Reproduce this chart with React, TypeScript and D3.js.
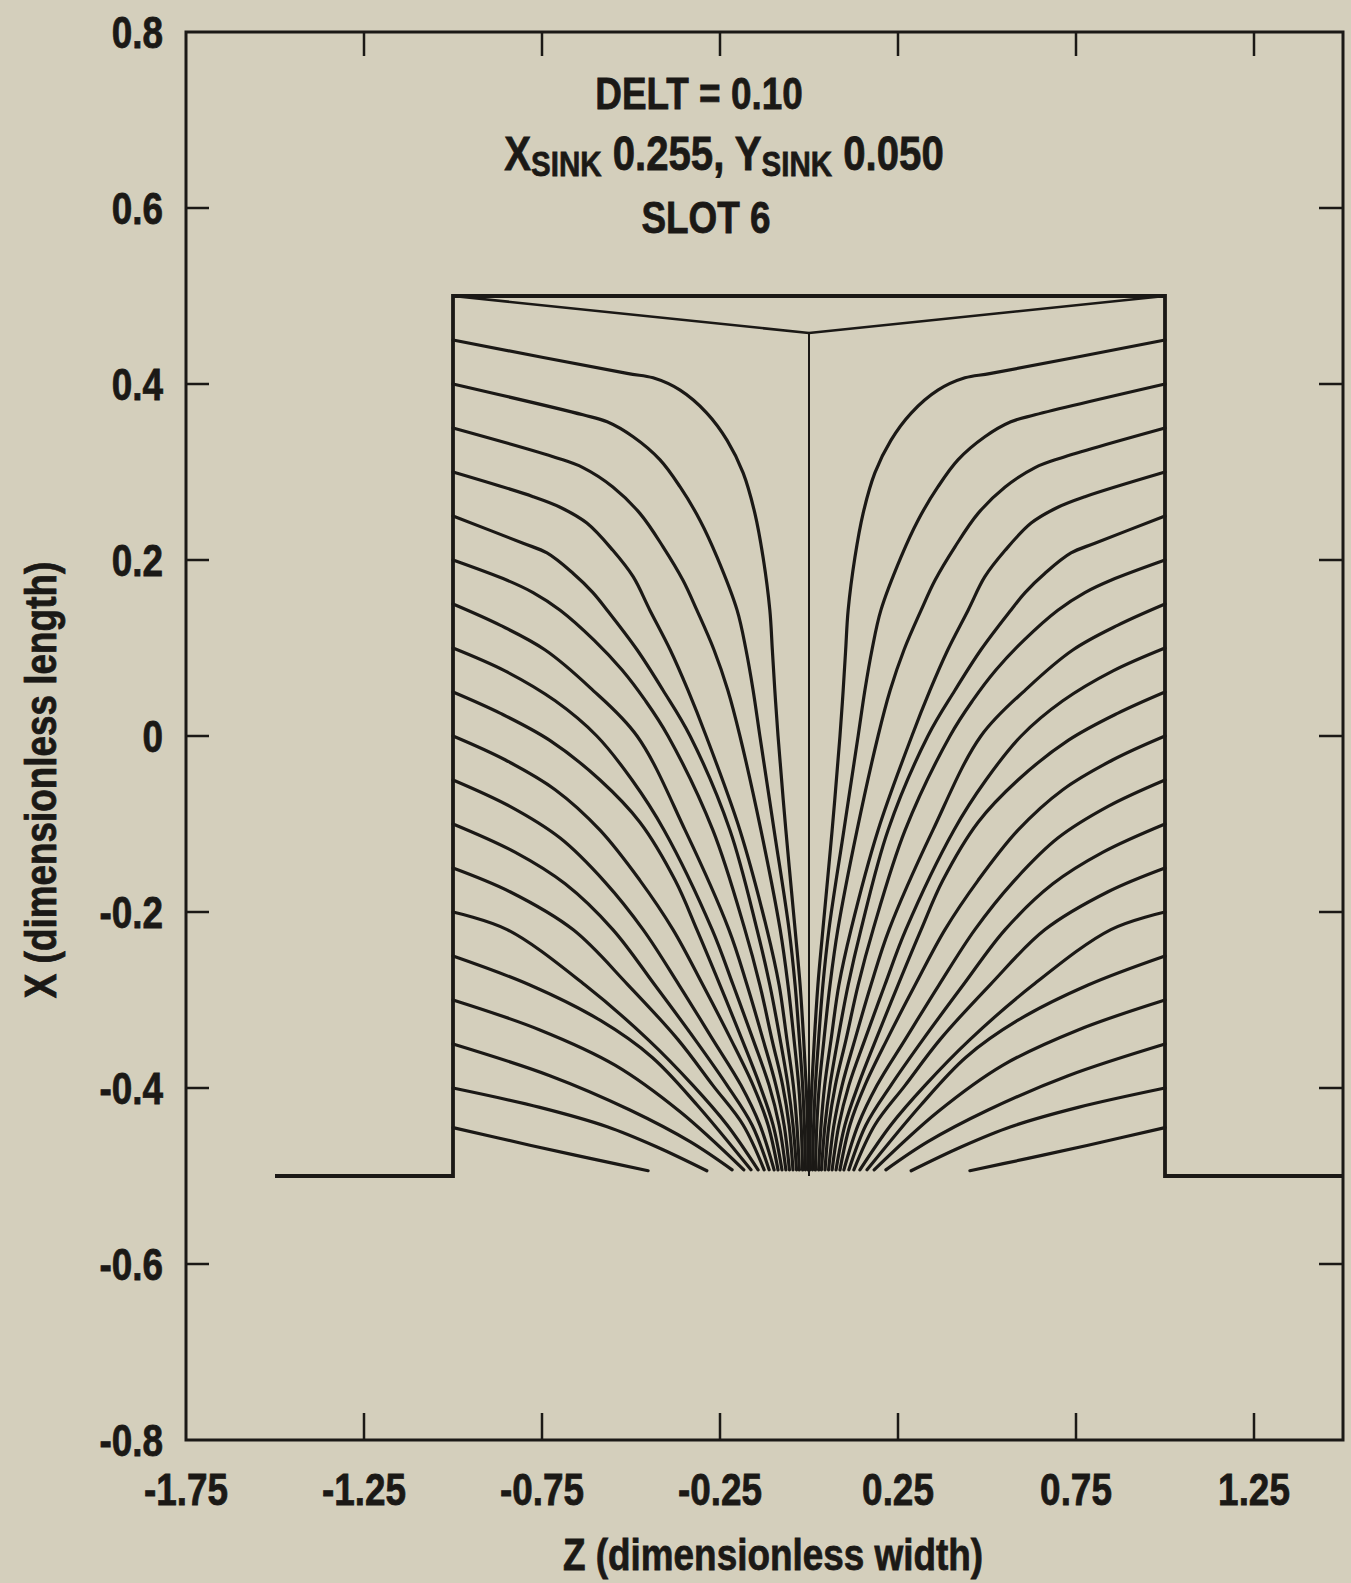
import * as d3 from 'd3';

const W = 1351;
const H = 1583;
const left = 186;
const right = 1343;
const top = 32;
const bottom = 1440;

const xTicks = [-1.75, -1.25, -0.75, -0.25, 0.25, 0.75, 1.25];
const xTickLabels = ['-1.75', '-1.25', '-0.75', '-0.25', '0.25', '0.75', '1.25'];
const yTicks = [0.8, 0.6, 0.4, 0.2, 0, -0.2, -0.4, -0.6, -0.8];
const yTickLabels = ['0.8', '0.6', '0.4', '0.2', '0', '-0.2', '-0.4', '-0.6', '-0.8'];

// slot walls and the floor on both sides
const slotOutline: [number, number][] = [
  [-1.5, -0.5], [-1, -0.5], [-1, 0.5], [1, 0.5], [1, -0.5], [1.5, -0.5],
];
const topLineLeft: [number, number][] = [[-1, 0.5], [0, 0.458]];
const centerLine: [number, number][] = [[0, 0.458], [0, -0.5]];

// streamlines of the left half as (Z, X); the right half is its mirror
const streamlines: [number, number][][] = [
  [[-1, 0.45], [-0.511, 0.412], [-0.438, 0.407], [-0.362, 0.393], [-0.287, 0.367], [-0.23, 0.336], [-0.185, 0.299], [-0.152, 0.253], [-0.129, 0.203], [-0.11, 0.143], [-0.103, 0.098], [-0.096, 0.052], [-0.087, 0], [-0.065, -0.107], [-0.039, -0.22], [-0.025, -0.283], [-0.015, -0.345], [-0.008, -0.397], [-0.004, -0.442], [-0.003, -0.493]],
  [[-1, 0.4], [-0.635, 0.365], [-0.567, 0.357], [-0.494, 0.34], [-0.419, 0.314], [-0.362, 0.283], [-0.306, 0.245], [-0.258, 0.203], [-0.202, 0.143], [-0.177, 0.098], [-0.157, 0.052], [-0.138, 0], [-0.098, -0.107], [-0.056, -0.22], [-0.039, -0.283], [-0.027, -0.345], [-0.018, -0.397], [-0.013, -0.442], [-0.01, -0.493]],
  [[-1, 0.35], [-0.708, 0.316], [-0.635, 0.305], [-0.551, 0.283], [-0.475, 0.253], [-0.41, 0.215], [-0.354, 0.177], [-0.315, 0.143], [-0.267, 0.098], [-0.228, 0.052], [-0.194, 0], [-0.135, -0.107], [-0.081, -0.22], [-0.059, -0.283], [-0.042, -0.345], [-0.029, -0.397], [-0.022, -0.442], [-0.018, -0.493]],
  [[-1, 0.3], [-0.775, 0.272], [-0.699, 0.26], [-0.624, 0.242], [-0.551, 0.211], [-0.494, 0.181], [-0.447, 0.143], [-0.39, 0.098], [-0.34, 0.052], [-0.289, 0], [-0.194, -0.107], [-0.118, -0.22], [-0.084, -0.283], [-0.062, -0.345], [-0.044, -0.397], [-0.034, -0.442], [-0.027, -0.493]],
  [[-1, 0.25], [-0.803, 0.219], [-0.736, 0.208], [-0.663, 0.185], [-0.607, 0.163], [-0.567, 0.143], [-0.483, 0.098], [-0.41, 0.052], [-0.334, 0], [-0.222, -0.107], [-0.146, -0.22], [-0.11, -0.283], [-0.081, -0.345], [-0.059, -0.397], [-0.045, -0.442], [-0.035, -0.493]],
  [[-1, 0.2], [-0.848, 0.177], [-0.775, 0.163], [-0.699, 0.143], [-0.604, 0.109], [-0.525, 0.075], [-0.461, 0.041], [-0.396, 0], [-0.27, -0.107], [-0.18, -0.22], [-0.138, -0.283], [-0.104, -0.345], [-0.074, -0.397], [-0.056, -0.442], [-0.045, -0.493]],
  [[-1, 0.15], [-0.868, 0.126], [-0.742, 0.098], [-0.615, 0.055], [-0.483, 0], [-0.348, -0.107], [-0.225, -0.22], [-0.174, -0.283], [-0.129, -0.345], [-0.093, -0.397], [-0.07, -0.442], [-0.055, -0.493]],
  [[-1, 0.1], [-0.854, 0.074], [-0.713, 0.04], [-0.596, 0], [-0.497, -0.05], [-0.407, -0.107], [-0.272, -0.22], [-0.213, -0.283], [-0.157, -0.345], [-0.112, -0.397], [-0.084, -0.442], [-0.065, -0.493]],
  [[-1, 0.05], [-0.868, 0.026], [-0.728, -0.005], [-0.587, -0.05], [-0.475, -0.098], [-0.376, -0.164], [-0.315, -0.22], [-0.25, -0.283], [-0.188, -0.345], [-0.138, -0.397], [-0.101, -0.442], [-0.076, -0.493]],
  [[-1, 0], [-0.854, -0.027], [-0.713, -0.061], [-0.587, -0.107], [-0.475, -0.164], [-0.382, -0.22], [-0.298, -0.283], [-0.219, -0.345], [-0.157, -0.397], [-0.115, -0.442], [-0.087, -0.493]],
  [[-1, -0.05], [-0.84, -0.08], [-0.699, -0.116], [-0.573, -0.166], [-0.466, -0.22], [-0.365, -0.283], [-0.27, -0.345], [-0.191, -0.397], [-0.138, -0.442], [-0.098, -0.493]],
  [[-1, -0.1], [-0.826, -0.132], [-0.685, -0.168], [-0.551, -0.22], [-0.433, -0.283], [-0.32, -0.345], [-0.23, -0.397], [-0.16, -0.442], [-0.112, -0.493]],
  [[-1, -0.15], [-0.84, -0.177], [-0.663, -0.22], [-0.508, -0.283], [-0.368, -0.345], [-0.27, -0.397], [-0.185, -0.442], [-0.126, -0.493]],
  [[-1, -0.2], [-0.848, -0.22], [-0.629, -0.283], [-0.452, -0.345], [-0.326, -0.397], [-0.23, -0.442], [-0.143, -0.493]],
  [[-1, -0.25], [-0.784, -0.283], [-0.587, -0.323], [-0.441, -0.365], [-0.315, -0.419], [-0.163, -0.493]],
  [[-1, -0.3], [-0.756, -0.334], [-0.545, -0.374], [-0.362, -0.427], [-0.183, -0.493]],
  [[-1, -0.35], [-0.728, -0.386], [-0.503, -0.425], [-0.334, -0.461], [-0.216, -0.493]],
  [[-1, -0.4], [-0.756, -0.422], [-0.567, -0.444], [-0.427, -0.467], [-0.287, -0.494]],
  [[-1, -0.445], [-0.784, -0.465], [-0.615, -0.48], [-0.452, -0.494]],
];

const ink = '#1b1916';
const paper = '#d4cfbc';
const font = "'Liberation Sans', Arial, sans-serif";
const squeeze = 0.82;

function Txt({ x, y, anchor = 'middle', size = 45, rotate = 0, children }: any) {
  return (
    <text
      transform={`translate(${x},${y}) rotate(${rotate}) scale(${squeeze},1)`}
      textAnchor={anchor}
      fontSize={size}
      fontWeight="bold"
      fontFamily={font}
      fill={ink}
      stroke={ink}
      strokeWidth={0.8}
    >
      {children}
    </text>
  );
}

export default function App() {
  const x = d3.scaleLinear([-1.75, 1.5], [left, right]);
  const y = d3.scaleLinear([-0.8, 0.8], [bottom, top]);
  const curve = d3
    .line<[number, number]>((d) => x(d[0]), (d) => y(d[1]))
    .curve(d3.curveCatmullRom.alpha(0.5));
  const straight = d3.line<[number, number]>((d) => x(d[0]), (d) => y(d[1]));
  const mirror = (pts: [number, number][]) => pts.map(([z, v]) => [-z, v] as [number, number]);

  return (
    <svg
      width={W}
      height={H}
      style={{ position: 'absolute', left: 0, top: 0, background: paper }}
    >
      <rect x={0} y={0} width={W} height={H} fill={paper} />

      {/* frame */}
      <rect
        x={left}
        y={top}
        width={right - left}
        height={bottom - top}
        fill="none"
        stroke={ink}
        strokeWidth={3}
      />
      {xTicks.slice(1).map((t) => (
        <g key={'xt' + t}>
          <line x1={x(t)} x2={x(t)} y1={top} y2={top + 24} stroke={ink} strokeWidth={2.5} />
          <line x1={x(t)} x2={x(t)} y1={bottom} y2={bottom - 27} stroke={ink} strokeWidth={2.5} />
        </g>
      ))}
      {yTicks.slice(1, -1).map((t) => (
        <g key={'yt' + t}>
          <line x1={left} x2={left + 23} y1={y(t)} y2={y(t)} stroke={ink} strokeWidth={2.5} />
          <line x1={right} x2={right - 24} y1={y(t)} y2={y(t)} stroke={ink} strokeWidth={2.5} />
        </g>
      ))}

      {xTicks.map((t, i) => (
        <Txt key={'xl' + t} x={x(t)} y={1505}>
          {xTickLabels[i]}
        </Txt>
      ))}
      {yTicks.map((t, i) => (
        <Txt key={'yl' + t} x={163} y={y(t) + 16} anchor="end">
          {yTickLabels[i]}
        </Txt>
      ))}

      <Txt x={773} y={1570}>
        Z (dimensionless width)
      </Txt>
      <Txt x={56} y={780} rotate={-90}>
        X (dimensionless length)
      </Txt>

      {/* annotation */}
      <Txt x={699} y={109}>
        DELT = 0.10
      </Txt>
      <Txt x={724} y={170} size={49}>
        <tspan>X</tspan>
        <tspan fontSize={36} dy={6}>SINK</tspan>
        <tspan dy={-6}> 0.255, Y</tspan>
        <tspan fontSize={36} dy={6}>SINK</tspan>
        <tspan dy={-6}> 0.050</tspan>
      </Txt>
      <Txt x={706} y={233}>
        SLOT 6
      </Txt>

      {/* slot */}
      <path d={straight(slotOutline) ?? ''} fill="none" stroke={ink} strokeWidth={3.8} strokeLinejoin="miter" />
      <path d={straight(topLineLeft) ?? ''} fill="none" stroke={ink} strokeWidth={2.6} />
      <path d={straight(mirror(topLineLeft)) ?? ''} fill="none" stroke={ink} strokeWidth={2.6} />
      <path d={straight(centerLine) ?? ''} fill="none" stroke={ink} strokeWidth={2} />

      <g fill="none" stroke={ink} strokeWidth={3.2} strokeLinecap="round">
        {streamlines.map((s, i) => (
          <g key={'s' + i}>
            <path d={curve(s) ?? ''} />
            <path d={curve(mirror(s)) ?? ''} />
          </g>
        ))}
      </g>
    </svg>
  );
}
